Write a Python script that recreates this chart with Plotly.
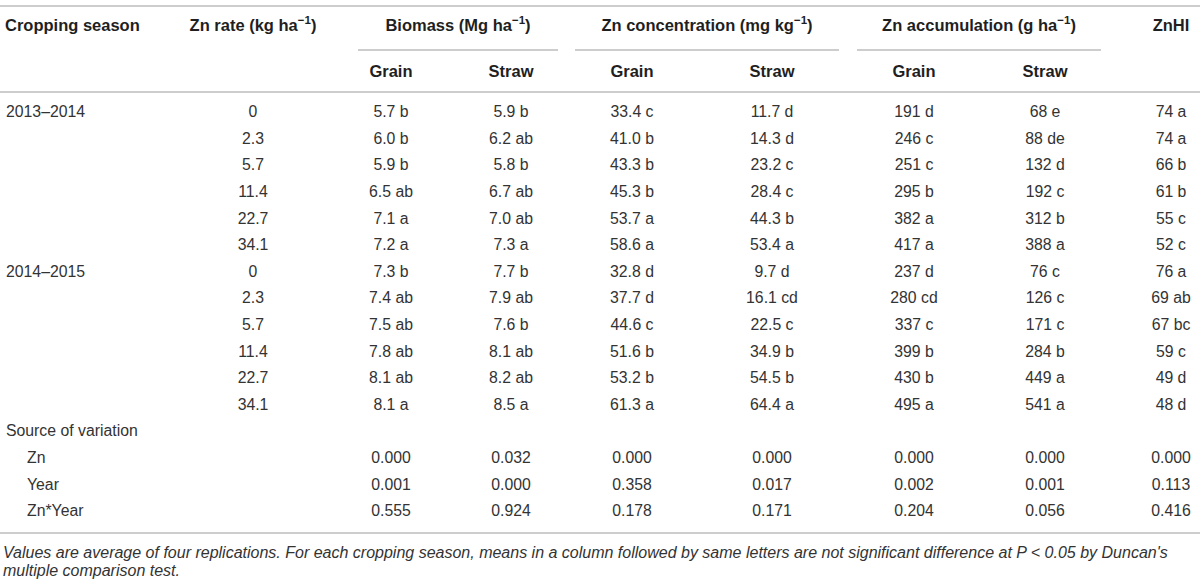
import plotly.graph_objects as go

# table content
seasons = ["2013–2014", "", "", "", "", "", "2014–2015", "", "", "", "", ""]
zn_rate = ["0", "2.3", "5.7", "11.4", "22.7", "34.1", "0", "2.3", "5.7", "11.4", "22.7", "34.1"]
biomass_grain = ["5.7 b", "6.0 b", "5.9 b", "6.5 ab", "7.1 a", "7.2 a",
                 "7.3 b", "7.4 ab", "7.5 ab", "7.8 ab", "8.1 ab", "8.1 a"]
biomass_straw = ["5.9 b", "6.2 ab", "5.8 b", "6.7 ab", "7.0 ab", "7.3 a",
                 "7.7 b", "7.9 ab", "7.6 b", "8.1 ab", "8.2 ab", "8.5 a"]
conc_grain = ["33.4 c", "41.0 b", "43.3 b", "45.3 b", "53.7 a", "58.6 a",
              "32.8 d", "37.7 d", "44.6 c", "51.6 b", "53.2 b", "61.3 a"]
conc_straw = ["11.7 d", "14.3 d", "23.2 c", "28.4 c", "44.3 b", "53.4 a",
              "9.7 d", "16.1 cd", "22.5 c", "34.9 b", "54.5 b", "64.4 a"]
accum_grain = ["191 d", "246 c", "251 c", "295 b", "382 a", "417 a",
               "237 d", "280 cd", "337 c", "399 b", "430 b", "495 a"]
accum_straw = ["68 e", "88 de", "132 d", "192 c", "312 b", "388 a",
               "76 c", "126 c", "171 c", "284 b", "449 a", "541 a"]
znhi = ["74 a", "74 a", "66 b", "61 b", "55 c", "52 c",
        "76 a", "69 ab", "67 bc", "59 c", "49 d", "48 d"]

# ANOVA p-values
sources = ["Zn", "Year", "Zn*Year"]
p_biomass_grain = ["0.000", "0.001", "0.555"]
p_biomass_straw = ["0.032", "0.000", "0.924"]
p_conc_grain = ["0.000", "0.358", "0.178"]
p_conc_straw = ["0.000", "0.017", "0.171"]
p_accum_grain = ["0.000", "0.002", "0.204"]
p_accum_straw = ["0.000", "0.001", "0.056"]
p_znhi = ["0.000", "0.113", "0.416"]

group_headers = ["Biomass (Mg ha<sup>−1</sup>)", "Zn concentration (mg kg<sup>−1</sup>)",
                 "Zn accumulation (g ha<sup>−1</sup>)"]
sub_headers = ["Grain", "Straw"] * 3

footnote_lines = ["Values are average of four replications. For each cropping season, means in a column "
                  "followed by same letters are not significant difference at P &lt; 0.05 by Duncan's",
                  "multiple comparison test."]

# layout (pixel grid, y grows downwards)
W, H = 1200, 584
col_x = [253, 391, 511, 632, 772, 914, 1045, 1171]
group_span = [(358, 558), (575, 839), (857, 1101)]
row0, pitch = 113.3, 26.6
head_y, sub_y = 27, 73
rule_color = "#bdbdbd"
txt_color = "#333333"
font = "Liberation Sans, Arial, sans-serif"
fs = 15.8
hfs = 16.5

value_cols = [zn_rate, biomass_grain, biomass_straw, conc_grain, conc_straw,
              accum_grain, accum_straw, znhi]
p_cols = [p_biomass_grain, p_biomass_straw, p_conc_grain, p_conc_straw,
          p_accum_grain, p_accum_straw, p_znhi]

n = len(zn_rate)
row_y = [row0 + i * pitch for i in range(n + 4)]

fig = go.Figure()

# centred body cells
xs, ys, ts = [], [], []
for x, col in zip(col_x, value_cols):
    for i, v in enumerate(col):
        xs.append(x); ys.append(row_y[i]); ts.append(v)
for x, col in zip(col_x[1:], p_cols):
    for j, v in enumerate(col):
        xs.append(x); ys.append(row_y[n + 1 + j]); ts.append(v)
fig.add_trace(go.Scatter(x=xs, y=ys, text=ts, mode="text", textposition="middle center",
                         textfont=dict(family=font, size=fs, color=txt_color),
                         hoverinfo="skip", showlegend=False))

# left column: seasons, source of variation and its indented terms
lx, ly, lt = [], [], []
for i, s in enumerate(seasons):
    if s:
        lx.append(6); ly.append(row_y[i]); lt.append(s)
lx.append(6); ly.append(row_y[n]); lt.append("Source of variation")
for j, s in enumerate(sources):
    lx.append(27); ly.append(row_y[n + 1 + j]); lt.append(s)
fig.add_trace(go.Scatter(x=lx, y=ly, text=lt, mode="text", textposition="middle right",
                         textfont=dict(family=font, size=fs, color=txt_color),
                         hoverinfo="skip", showlegend=False))

# headers
hx = [5] + [col_x[0]] + [(a + b) / 2 for a, b in group_span] + [col_x[-1]] + col_x[1:7]
hy = [head_y] * 6 + [sub_y] * 6
ht = ["<b>Cropping season</b>", "<b>Zn rate (kg ha<sup>−1</sup>)</b>"] + \
     ["<b>%s</b>" % g for g in group_headers] + ["<b>ZnHI</b>"] + ["<b>%s</b>" % s for s in sub_headers]
hpos = ["middle right"] + ["middle center"] * 11
fig.add_trace(go.Scatter(x=hx, y=hy, text=ht, mode="text", textposition=hpos,
                         textfont=dict(family=font, size=hfs, color="#1f1f1f"),
                         hoverinfo="skip", showlegend=False))

# rules
rule = dict(type="line", xref="x", yref="y", line=dict(color=rule_color, width=1.5))
fig.add_shape(x0=0, x1=W, y0=6, y1=6, **rule)
for a, b in group_span:
    fig.add_shape(x0=a, x1=b, y0=50, y1=50, **rule)
fig.add_shape(x0=0, x1=W, y0=92, y1=92, **rule)
fig.add_shape(x0=0, x1=W, y0=533, y1=533, **rule)

for k, line in enumerate(footnote_lines):
    fig.add_annotation(x=1, y=552 + 18 * k, xref="x", yref="y", text="<i>%s</i>" % line,
                       showarrow=False, xanchor="left", yanchor="middle", align="left",
                       font=dict(family=font, size=16, color=txt_color))

fig.update_layout(
    width=W, height=H,
    margin=dict(l=0, r=0, t=0, b=0),
    paper_bgcolor="white", plot_bgcolor="white",
    xaxis=dict(range=[0, W], visible=False, fixedrange=True),
    yaxis=dict(range=[H, 0], visible=False, fixedrange=True),
)

# drop the default page margin so the 1200x584 figure fills the window
fig.write_html("out.html", post_script="document.body.style.margin='0';",
               config={"displayModeBar": False})
